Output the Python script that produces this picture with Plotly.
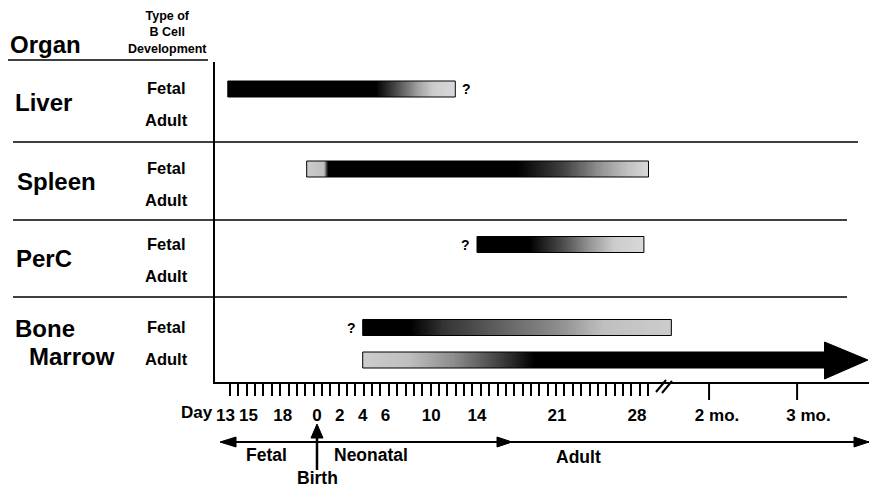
import numpy as np
import plotly.graph_objects as go

# ---------------- data ----------------
organ_labels = ["Liver", "Spleen", "PerC", "Bone", "Marrow"]
dev_types = ["Fetal", "Adult"]
organs = ["Liver", "Spleen", "PerC", "Bone Marrow"]

# timeline in days relative to birth (fetal days E13/E15/E18 placed at -8/-6/-3)
bar_organs = ["Liver", "Spleen", "PerC", "Bone Marrow", "Bone Marrow"]
bar_types = ["Fetal", "Fetal", "Fetal", "Fetal", "Adult"]
bar_start = [-7.8, -0.9, 14.0, 4.0, 4.0]
bar_end = [12.1, 29.0, 28.6, 31.0, 44.4]
q_before = [False, False, True, True, False]
q_after = [True, False, False, False, False]
arrow_tip_day = 48.2  # adult bone-marrow development continues

# shading stops along each bar: day -> darkness (1 = black)
shade_days = [
    [-7.8, 5.2, 7.0, 9.0, 10.2, 12.1],
    [-0.9, 0.6, 1.0, 17.5, 21.5, 24.5, 27.0, 29.0],
    [14.0, 18.6, 21.5, 24.0, 26.0, 28.6],
    [4.0, 8.2, 11.0, 16.0, 21.0, 25.0, 31.0],
    [4.0, 8.0, 12.0, 16.0, 19.0, 44.4],
]
shade_dark = [
    [1.0, 1.0, 0.7, 0.35, 0.2, 0.15],
    [0.2, 0.25, 1.0, 1.0, 0.75, 0.45, 0.25, 0.15],
    [1.0, 1.0, 0.7, 0.4, 0.2, 0.15],
    [1.0, 1.0, 0.8, 0.62, 0.45, 0.25, 0.2],
    [0.2, 0.25, 0.45, 0.75, 1.0, 1.0],
]

day_tick_vals = [-8, -6, -3, 0, 2, 4, 6, 10, 14, 21, 28]
day_tick_text = ["13", "15", "18", "0", "2", "4", "6", "10", "14", "21", "28"]
month_tick_vals = [35.0, 43.0]
month_mark_vals = [34.3, 42.0]
month_tick_text = ["2 mo.", "3 mo."]

# ---------------- layout helpers ----------------
W, H = 869, 487
ML, MR, MT, MB = 215, 0, 62, 105
PW, PH = W - ML - MR, H - MT - MB
BOT = H - MB
FONT = "Liberation Sans, Arial, sans-serif"


def px(x):
    return (x - ML) / PW


def py(y):
    return (BOT - y) / PH


track_y = {
    ("Liver", "Fetal"): 89, ("Liver", "Adult"): 121,
    ("Spleen", "Fetal"): 169, ("Spleen", "Adult"): 201,
    ("PerC", "Fetal"): 244.5, ("PerC", "Adult"): 277,
    ("Bone Marrow", "Fetal"): 327.5, ("Bone Marrow", "Adult"): 360,
}
organ_label_pos = {"Liver": (13, 102), "Spleen": (15, 181), "PerC": (14, 258),
                   "Bone": (13, 328), "Marrow": (27, 356)}
BAR_H = 16

fig = go.Figure()
gscale = [[0, "#ffffff"], [1, "#000000"]]

for i in range(len(bar_start)):
    x0, x1 = bar_start[i], bar_end[i]
    edges = np.linspace(x0, x1, 301)
    centers = (edges[:-1] + edges[1:]) / 2
    z = np.interp(centers, shade_days[i], shade_dark[i])
    yc = track_y[(bar_organs[i], bar_types[i])]
    y0, y1 = yc - BAR_H / 2, yc + BAR_H / 2
    fig.add_trace(go.Heatmap(x=edges, y=[y0, y1], z=[z], zmin=0, zmax=1,
                             colorscale=gscale, showscale=False, hoverinfo="skip"))
    if i == len(bar_start) - 1:
        ya0, ya1 = yc - 18, yc + 19
        fig.add_trace(go.Scatter(x=[x1, arrow_tip_day, x1, x1], y=[ya0, yc, ya1, ya0],
                                 fill="toself", fillcolor="black", mode="lines",
                                 line=dict(color="black", width=1), hoverinfo="skip",
                                 showlegend=False))
        fig.add_trace(go.Scatter(x=[x1, x0, x0, x1], y=[y0, y0, y1, y1], mode="lines",
                                 line=dict(color="black", width=1), hoverinfo="skip",
                                 showlegend=False))
    else:
        fig.add_trace(go.Scatter(x=[x0, x1, x1, x0, x0], y=[y0, y0, y1, y1, y0], mode="lines",
                                 line=dict(color="black", width=1), hoverinfo="skip",
                                 showlegend=False))
    if q_before[i]:
        fig.add_annotation(x=x0 - 0.4, y=yc, xref="x", yref="y", text="<b>?</b>",
                           showarrow=False, xanchor="right", yanchor="middle",
                           font=dict(family=FONT, size=14, color="black"))
    if q_after[i]:
        fig.add_annotation(x=x1 + 0.4, y=yc, xref="x", yref="y", text="<b>?</b>",
                           showarrow=False, xanchor="left", yanchor="middle",
                           font=dict(family=FONT, size=14, color="black"))


# ---------------- left labels ----------------
def ann(x, y, text, size, anchor="center"):
    fig.add_annotation(x=px(x), y=py(y), xref="paper", yref="paper", text=f"<b>{text}</b>",
                       showarrow=False, xanchor=anchor, yanchor="middle",
                       font=dict(family=FONT, size=size, color="black"))


ann(167, 32, "Type of<br>B Cell<br>Development", 12.5)
ann(8, 44, "Organ", 24, "left")
for lab in organ_labels:
    x, y = organ_label_pos[lab]
    ann(x, y, lab, 24, "left")
for org in organs:
    for t in dev_types:
        ann(166, track_y[(org, t)] - 1, t, 16.5)

lines = []


def seg(x0, y0, x1, y1, w=1.5):
    lines.append(dict(type="line", xref="paper", yref="paper", x0=px(x0), y0=py(y0),
                      x1=px(x1), y1=py(y1), line=dict(color="black", width=w)))


seg(8, 60, 208, 60, 1.5)
seg(13, 142, 858, 142, 1.5)
seg(13, 220, 847, 220, 1.5)
seg(13, 297, 847, 297, 1.5)

# axis break and month ticks
seg(656, 392, 666, 380, 2)
seg(662, 393, 672, 381, 2)
for v in month_mark_vals:
    lines.append(dict(type="line", xref="x", yref="paper", x0=v, x1=v, y0=0, y1=py(400),
                      line=dict(color="black", width=2)))

# bottom timeline
seg(222, 442, 869, 442, 2)
seg(317, 470, 317, 436, 2.5)


def tri(pts):
    p = "M " + " L ".join(f"{px(a)},{py(b)}" for a, b in pts) + " Z"
    lines.append(dict(type="path", xref="paper", yref="paper", path=p,
                      fillcolor="black", line=dict(color="black", width=1)))


tri([(220, 442), (236, 437), (236, 447)])
tri([(512, 442), (497, 437), (497, 447)])
tri([(869, 442), (854, 437), (854, 447)])
tri([(317, 424), (311, 438), (323, 438)])

ann(197, 412, "Day", 17)
ann(266, 455, "Fetal", 17.5)
ann(371, 455, "Neonatal", 17.5)
ann(578, 457, "Adult", 17.5)
ann(317, 478, "Birth", 17.5)

minor_ticks = np.linspace(-7.61, 28.96, 51)

fig.update_layout(
    width=W, height=H,
    margin=dict(l=ML, r=MR, t=MT, b=MB),
    paper_bgcolor="white", plot_bgcolor="white",
    showlegend=False,
    shapes=lines,
    xaxis=dict(range=[-8.92, 48.29], showline=True, linecolor="black", linewidth=2,
               showgrid=False, zeroline=False,
               tickmode="array", tickvals=day_tick_vals + month_tick_vals,
               ticktext=[f"<b>{t}</b>" for t in day_tick_text + month_tick_text],
               ticks="outside", ticklen=17, tickcolor="rgba(0,0,0,0)",
               tickfont=dict(family=FONT, size=17, color="black"),
               minor=dict(tickmode="array", tickvals=list(minor_ticks), ticks="outside",
                          ticklen=12, tickwidth=2, tickcolor="black", showgrid=False)),
    yaxis=dict(range=[BOT, MT], showline=True, linecolor="black", linewidth=2,
               showgrid=False, zeroline=False, showticklabels=False, ticks=""),
)

fig.write_html("out.html", config={"displayModeBar": False},
               post_script="document.body.style.margin='0px';document.body.style.overflow='hidden';")
